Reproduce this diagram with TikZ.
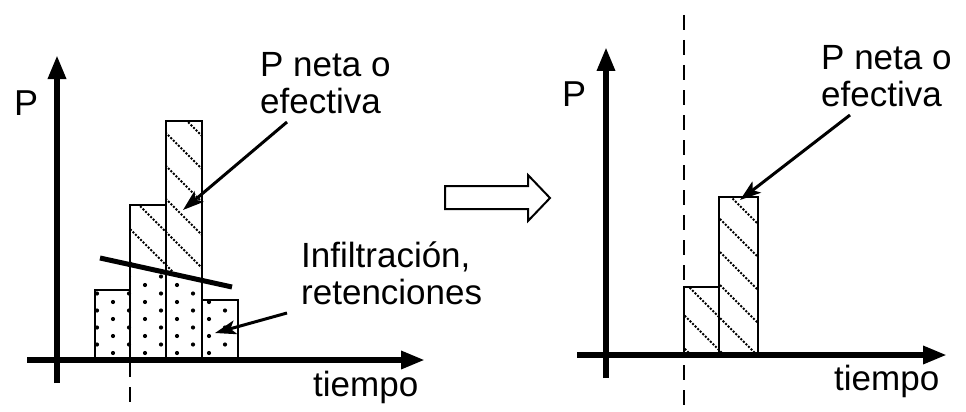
\documentclass[tikz,border=0pt]{standalone}
\usepackage{fontspec}
\setmainfont{Liberation Sans}
\usetikzlibrary{arrows.meta}
\begin{document}
\begin{tikzpicture}[x=1pt,y=-1pt,
  axis/.style={line width=6pt,-{Triangle[length=24pt,width=17pt]}},
  bar/.style={draw,line width=1.2pt},
  hatchline/.style={line width=2pt,dash pattern=on 2pt off 1.6pt},
  pointer/.style={line width=3pt,-{Stealth[length=21pt,width=14pt,inset=5pt]}},
  lbl/.style={font=\fontsize{35}{37}\selectfont,inner sep=0pt,align=left},
  plbl/.style={font=\fontsize{36}{40}\selectfont,inner sep=0pt},
  guide/.style={line width=1.2pt,dash pattern=on 15pt off 10pt},
  sep/.style={line width=5pt}]
\useasboundingbox (0,0) rectangle (966,412);

% ---------------- left panel ----------------
% hatched part above the separation line
\begin{scope}
  \clip (130,264.6) -- (130,205) -- (166,205) -- (166,121) -- (202,121) -- (202,280.4) -- cycle;
  \foreach \c in {-330,-297,...,330} \draw[hatchline] (\c,0) -- (\c+450,450);
\end{scope}
% dotted part below the separation line
\begin{scope}
  \clip (95,290) -- (130,290) -- (130,264.6) -- (202,280.4) -- (202,300) -- (238,300) -- (238,360) -- (95,360) -- cycle;
  \foreach \i in {0,...,9} \foreach \j in {0,...,14} {
    \pgfmathsetmacro\xx{97+16*\i}
    \pgfmathsetmacro\yy{353-17*\j-8.5*mod(\i+1,2)}
    \fill (\xx,\yy) circle (2.1pt);
  }
\end{scope}
\draw[bar] (95,290) rectangle (130,360);
\draw[bar] (130,205) rectangle (166,360);
\draw[bar] (166,121) rectangle (202,360);
\draw[bar] (202,300) rectangle (238,360);
\draw[sep] (100,258) -- (232,287);
\draw[guide] (130,362) -- (130,412);
\draw[axis] (57,383) -- (57,55);
\draw[axis] (27,360) -- (425,360);
\node[plbl,anchor=base west] (pL) at (14,115) {P};
\node[lbl,anchor=base west] (tL) at (313,396) {tiempo};
\node[lbl,anchor=north west] (netaL) at (260,52) {P neta o\\efectiva};
\node[lbl,anchor=north west] (infL) at (301,242) {Infiltración,\\retenciones};
\coordinate (sNL) at (287,122);
\coordinate (eNL) at (183,210);
\coordinate (sIL) at (287,313);
\coordinate (eIL) at (215,333);
\draw[pointer] (sNL) -- (eNL);
\draw[pointer] (sIL) -- (eIL);

% ---------------- transition arrow ----------------
\draw[line width=2pt,line join=miter] (445,186) -- (528,186) -- (528,175) -- (550,198) -- (528,221) -- (528,209) -- (445,209) -- cycle;

% ---------------- right panel ----------------
\begin{scope}
  \clip (684,287) -- (719,287) -- (719,197) -- (758,197) -- (758,355) -- (684,355) -- cycle;
  \foreach \c in {270,303,...,620} \draw[hatchline] (\c,0) -- (\c+450,450);
\end{scope}
\draw[bar] (684,287) rectangle (719,355);
\draw[bar] (719,197) rectangle (758,355);
\draw[guide] (684,15) -- (684,405);
\draw[axis] (606,378) -- (606,47);
\draw[axis] (577,355) -- (947,355);
\node[plbl,anchor=base west] (pR) at (562,106) {P};
\node[lbl,anchor=base west] (tR) at (834,390) {tiempo};
\node[lbl,anchor=north west] (netaR) at (821,45) {P neta o\\efectiva};
\coordinate (sNR) at (850,115);
\coordinate (eNR) at (740,200);
\draw[pointer] (sNR) -- (eNR);
\end{tikzpicture}
\end{document}
